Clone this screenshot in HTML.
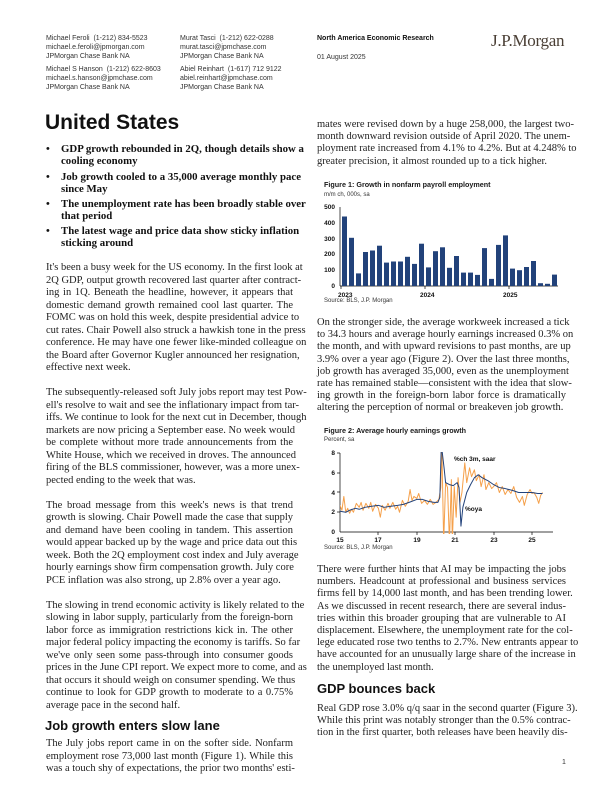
<!DOCTYPE html>
<html><head><meta charset="utf-8">
<style>
body{margin:0;background:#fff}
#pg{position:relative;width:612px;height:792px;overflow:hidden;background:#fff;color:#1a1a1a}
.h{position:absolute;font:7px/9px "Liberation Sans",sans-serif;color:#333;white-space:nowrap}
.col{position:absolute;font:10.5px/12.2px "Liberation Serif",serif;color:#222}
.col div{white-space:nowrap;text-align:justify;text-align-last:justify;height:12.2px}
.col.lc{line-height:12.5px}
.col.lc div{height:12.5px}
.col div.l{text-align-last:left}
.bul{position:absolute;left:46px;font:bold 10.8px/12px "Liberation Serif",serif;color:#111;width:250px}
.bul .d{position:absolute;left:0}
.bul .t{position:absolute;left:15px;white-space:nowrap}
.hd{position:absolute;font:bold 13px "Liberation Sans",sans-serif;color:#111;white-space:nowrap}
.ft{position:absolute;font:bold 7.2px "Liberation Sans",sans-serif;white-space:nowrap}
.fs{position:absolute;font:6px "Liberation Sans",sans-serif;color:#333;white-space:nowrap}
</style></head><body><div id="pg">
<div class="h" style="left:46px;top:34px">Michael Feroli&nbsp; (1-212) 834-5523<br>michael.e.feroli@jpmorgan.com<br>JPMorgan Chase Bank NA</div>
<div class="h" style="left:46px;top:65px">Michael S Hanson&nbsp; (1-212) 622-8603<br>michael.s.hanson@jpmchase.com<br>JPMorgan Chase Bank NA</div>
<div class="h" style="left:180px;top:34px">Murat Tasci&nbsp; (1-212) 622-0288<br>murat.tasci@jpmchase.com<br>JPMorgan Chase Bank NA</div>
<div class="h" style="left:180px;top:65px">Abiel Reinhart&nbsp; (1-617) 712 9122<br>abiel.reinhart@jpmchase.com<br>JPMorgan Chase Bank NA</div>
<div class="h" style="left:317px;top:34px;font-weight:bold;color:#111">North America Economic Research</div>
<div class="h" style="left:317px;top:53px">01 August 2025</div>
<div style="position:absolute;left:491px;top:31px;font:17px 'Liberation Serif',serif;color:#4a3f35;letter-spacing:-0.3px">J.P.Morgan</div>

<div class="hd" style="left:45px;top:111px;font-size:21px">United States</div>

<div class="bul" style="top:143px"><span class="d">•</span><span class="t">GDP growth rebounded in 2Q, though details show a<br>cooling economy</span></div>
<div class="bul" style="top:171px"><span class="d">•</span><span class="t">Job growth cooled to a 35,000 average monthly pace<br>since May</span></div>
<div class="bul" style="top:198px"><span class="d">•</span><span class="t">The unemployment rate has been broadly stable over<br>that period</span></div>
<div class="bul" style="top:225px"><span class="d">•</span><span class="t">The latest wage and price data show sticky inflation<br>sticking around</span></div>

<div class="col lc" style="left:46px;top:262px;width:247px">
<div>It's been a busy week for the US economy. In the first look at</div>
<div>2Q GDP, output growth recovered last quarter after contract-</div>
<div>ing in 1Q. Beneath the headline, however, it appears that</div>
<div>domestic demand growth remained cool last quarter. The</div>
<div>FOMC was on hold this week, despite presidential advice to</div>
<div>cut rates. Chair Powell also struck a hawkish tone in the press</div>
<div>conference. He may have one fewer like-minded colleague on</div>
<div>the Board after Governor Kugler announced her resignation,</div>
<div class="l">effective next week.</div>
<div></div>
<div>The subsequently-released soft July jobs report may test Pow-</div>
<div>ell's resolve to wait and see the inflationary impact from tar-</div>
<div>iffs. We continue to look for the next cut in December, though</div>
<div>markets are now pricing a September ease. No week would</div>
<div>be complete without more trade announcements from the</div>
<div>White House, which we received in droves. The announced</div>
<div>firing of the BLS commissioner, however, was a more unex-</div>
<div class="l">pected ending to the week that was.</div>
<div></div>
<div>The broad message from this week's news is that trend</div>
<div>growth is slowing. Chair Powell made the case that supply</div>
<div>and demand have been cooling in tandem. This assertion</div>
<div>would appear backed up by the wage and price data out this</div>
<div>week. Both the 2Q employment cost index and July average</div>
<div>hourly earnings show firm compensation growth. July core</div>
<div class="l">PCE inflation was also strong, up 2.8% over a year ago.</div>
<div></div>
<div>The slowing in trend economic activity is likely related to the</div>
<div>slowing in labor supply, particularly from the foreign-born</div>
<div>labor force as immigration restrictions kick in. The other</div>
<div>major federal policy impacting the economy is tariffs. So far</div>
<div>we've only seen some pass-through into consumer goods</div>
<div>prices in the June CPI report. We expect more to come, and as</div>
<div>that occurs it should weigh on consumer spending. We thus</div>
<div>continue to look for GDP growth to moderate to a 0.75%</div>
<div class="l">average pace in the second half.</div>
</div>
<div class="hd" style="left:45px;top:718px">Job growth enters slow lane</div>
<div class="col lc" style="left:46px;top:738px;width:247px">
<div>The July jobs report came in on the softer side. Nonfarm</div>
<div>employment rose 73,000 last month (Figure 1). While this</div>
<div>was a touch shy of expectations, the prior two months' esti-</div>
</div>

<div class="col" style="left:317px;top:119px;width:249px">
<div>mates were revised down by a huge 258,000, the largest two-</div>
<div>month downward revision outside of April 2020. The unem-</div>
<div>ployment rate increased from 4.1% to 4.2%. But at 4.248% to</div>
<div class="l">greater precision, it almost rounded up to a tick higher.</div>
</div>
<div class="ft" style="left:324px;top:180px">Figure 1: Growth in nonfarm payroll employment</div>
<div class="fs" style="left:324px;top:192px">m/m ch, 000s, sa</div>
<div class="fs" style="left:324px;top:298px">Source: BLS, J.P. Morgan</div>

<div class="col" style="left:317px;top:317px;width:249px">
<div>On the stronger side, the average workweek increased a tick</div>
<div>to 34.3 hours and average hourly earnings increased 0.3% on</div>
<div>the month, and with upward revisions to past months, are up</div>
<div>3.9% over a year ago (Figure 2). Over the last three months,</div>
<div>job growth has averaged 35,000, even as the unemployment</div>
<div>rate has remained stable—consistent with the idea that slow-</div>
<div>ing growth in the foreign-born labor force is dramatically</div>
<div class="l">altering the perception of normal or breakeven job growth.</div>
</div>
<div class="ft" style="left:324px;top:426px">Figure 2: Average hourly earnings growth</div>
<div class="fs" style="left:324px;top:437px">Percent, sa</div>
<div class="fs" style="left:324px;top:545px">Source: BLS, J.P. Morgan</div>

<div class="col" style="left:317px;top:564px;width:249px">
<div>There were further hints that AI may be impacting the jobs</div>
<div>numbers. Headcount at professional and business services</div>
<div>firms fell by 14,000 last month, and has been trending lower.</div>
<div>As we discussed in recent research, there are several indus-</div>
<div>tries within this broader grouping that are vulnerable to AI</div>
<div>displacement. Elsewhere, the unemployment rate for the col-</div>
<div>lege educated rose two tenths to 2.7%. New entrants appear to</div>
<div>have accounted for an unusually large share of the increase in</div>
<div class="l">the unemployed last month.</div>
</div>
<div class="hd" style="left:317px;top:681px">GDP bounces back</div>
<div class="col" style="left:317px;top:703px;width:249px">
<div>Real GDP rose 3.0% q/q saar in the second quarter (Figure 3).</div>
<div>While this print was notably stronger than the 0.5% contrac-</div>
<div>tion in the first quarter, both releases have been heavily dis-</div>
</div>
<div class="h" style="left:562px;top:758px">1</div>

<svg width="612" height="792" style="position:absolute;left:0;top:0" font-family="Liberation Sans, sans-serif">
<defs><clipPath id="c2"><rect x="340" y="452" width="215" height="82"/></clipPath></defs>
<g font-size="6.5" font-weight="bold" fill="#111" text-anchor="end">
<text x="335" y="209">500</text><text x="335" y="225">400</text><text x="335" y="241">300</text><text x="335" y="256">200</text><text x="335" y="272">100</text><text x="335" y="288">0</text>
</g>
<g stroke="#000" stroke-width="0.7"><line x1="340" y1="207" x2="340" y2="286"/><line x1="340" y1="286" x2="558" y2="286"/>
<line x1="341" y1="286" x2="341" y2="289"/><line x1="425" y1="286" x2="425" y2="289"/><line x1="509" y1="286" x2="509" y2="289"/></g>
<g font-size="6.5" font-weight="bold" fill="#111"><text x="338" y="297">2023</text><text x="420" y="297">2024</text><text x="503" y="297">2025</text></g>
<g fill="#22427a">
<rect x="342" y="216.5" width="5" height="69.5"/><rect x="349" y="237.8" width="5" height="48.2"/><rect x="356" y="273.4" width="5" height="12.6"/><rect x="363" y="252" width="5" height="34"/><rect x="370" y="250.5" width="5" height="35.5"/><rect x="377" y="245.7" width="5" height="40.3"/><rect x="384" y="262.6" width="5" height="23.4"/><rect x="391" y="261.5" width="5" height="24.5"/><rect x="398" y="261.5" width="5" height="24.5"/><rect x="405" y="256.8" width="5" height="29.2"/><rect x="412" y="263.9" width="5" height="22.1"/><rect x="419" y="243.7" width="5" height="42.3"/><rect x="426" y="267.4" width="5" height="18.6"/><rect x="433" y="251.2" width="5" height="34.8"/><rect x="440" y="247.3" width="5" height="38.7"/><rect x="447" y="267.8" width="5" height="18.2"/><rect x="454" y="256" width="5" height="30"/><rect x="461" y="272.6" width="5" height="13.4"/><rect x="468" y="272.6" width="5" height="13.4"/><rect x="475" y="274.9" width="5" height="11.1"/><rect x="482" y="248.1" width="5" height="37.9"/><rect x="489" y="278.9" width="5" height="7.1"/><rect x="496" y="244.9" width="5" height="41.1"/><rect x="503" y="235.4" width="5" height="50.6"/><rect x="510" y="268.6" width="5" height="17.4"/><rect x="517" y="270.2" width="5" height="15.8"/><rect x="524" y="267" width="5" height="19"/><rect x="531" y="261" width="5" height="25"/><rect x="538" y="283.2" width="5" height="2.8"/><rect x="545" y="283.8" width="5" height="2.2"/><rect x="552" y="274.6" width="5" height="11.4"/>
</g>
<g font-size="6.5" font-weight="bold" fill="#111" text-anchor="end">
<text x="335" y="455">8</text><text x="335" y="475">6</text><text x="335" y="495">4</text><text x="335" y="514">2</text><text x="335" y="534">0</text>
</g>
<g stroke="#000" stroke-width="0.7"><line x1="340" y1="453" x2="340" y2="532"/><line x1="340" y1="532" x2="553" y2="532"/>
<line x1="337" y1="453" x2="340" y2="453"/><line x1="337" y1="473" x2="340" y2="473"/><line x1="337" y1="492" x2="340" y2="492"/><line x1="337" y1="512" x2="340" y2="512"/>
<line x1="378" y1="532" x2="378" y2="535"/><line x1="417" y1="532" x2="417" y2="535"/><line x1="455" y1="532" x2="455" y2="535"/><line x1="494" y1="532" x2="494" y2="535"/><line x1="532" y1="532" x2="532" y2="535"/></g>
<g font-size="6.5" font-weight="bold" fill="#111" text-anchor="middle"><text x="340" y="542">15</text><text x="378" y="542">17</text><text x="417" y="542">19</text><text x="455" y="542">21</text><text x="494" y="542">23</text><text x="532" y="542">25</text></g>
<g clip-path="url(#c2)"><g transform="translate(52,532) scale(19.2,-9.875)" fill="none" stroke-linejoin="round">
<polyline vector-effect="non-scaling-stroke" stroke="#f5a04a" stroke-width="1" points="15.0,2.7 15.1,2.2 15.2,3.6 15.3,2.0 15.4,2.4 15.5,1.9 15.6,2.3 15.7,2.0 15.85,2.9 16.0,2.5 16.1,3.0 16.2,2.2 16.35,2.9 16.5,2.4 16.6,3.0 16.7,2.1 16.85,2.8 17.0,2.4 17.1,1.5 17.2,2.7 17.35,2.2 17.5,2.9 17.6,2.4 17.75,3.0 17.9,2.3 18.0,2.6 18.1,2.0 18.25,3.2 18.4,2.6 18.55,3.1 18.65,4.3 18.75,3.2 18.85,3.6 19.0,3.4 19.1,3.9 19.25,2.9 19.4,3.2 19.55,2.8 19.7,3.3 19.85,2.8 20.0,3.0 20.15,3.3 20.25,4.5 20.3,9 20.4,-1 20.5,5 20.6,4.5 20.7,-1 20.8,5.3 20.85,-1 20.95,4.6 21.05,1.5 21.15,5.5 21.25,3.0 21.35,4.0 21.5,7.0 21.6,5.0 21.75,6.5 21.85,5.6 22.0,6.3 22.1,5.2 22.25,5.8 22.35,4.6 22.5,5.8 22.6,4.3 22.75,5.0 22.9,4.4 23.0,4.6 23.15,5.0 23.3,4.0 23.45,4.6 23.6,3.8 23.75,4.3 23.9,3.9 24.05,4.6 24.2,3.5 24.35,3.0 24.5,3.6 24.6,2.7 24.75,3.8 24.9,4.3 25.0,3.9 25.1,4.0 25.25,3.5 25.35,2.9 25.45,3.7 25.55,4.0"/>
<polyline vector-effect="non-scaling-stroke" stroke="#22427a" stroke-width="1" points="15.0,2.1 15.3,2.0 15.5,2.2 15.8,2.4 16.0,2.3 16.3,2.5 16.6,2.6 17.0,2.7 17.3,2.5 17.6,2.6 18.0,2.7 18.3,2.8 18.6,3.0 19.0,3.3 19.3,3.3 19.6,3.1 19.9,3.0 20.1,3.0 20.2,3.5 20.28,9 20.33,8 20.42,6.5 20.5,5 20.7,4.8 20.9,4.7 21.1,5.0 21.2,4.5 21.3,0.6 21.4,2.5 21.6,4.0 21.8,4.8 22.0,5.5 22.2,5.8 22.4,5.5 22.7,5.2 23.0,4.8 23.3,4.5 23.6,4.4 24.0,4.2 24.3,4.0 24.6,4.0 25.0,4.0 25.3,3.9 25.55,3.9"/>
</g></g>
<text x="454" y="461" font-size="6.5" font-weight="bold" fill="#111">%ch 3m, saar</text>
<text x="465" y="511" font-size="6.5" font-weight="bold" fill="#111">%oya</text>
</svg>
</div></body></html>
